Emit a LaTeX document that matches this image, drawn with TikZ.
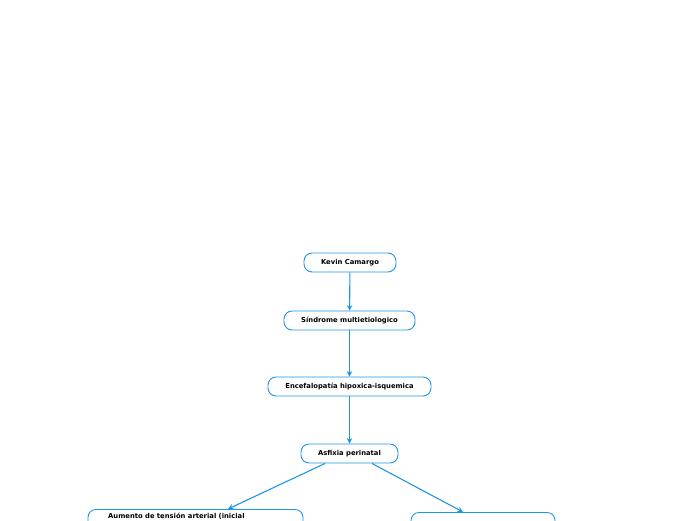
\documentclass[tikz,border=0pt]{standalone}
\usepackage{fontspec}
\setmainfont{DejaVu Sans}
\usepackage{tikz}
\usetikzlibrary{arrows.meta, positioning, calc}
\definecolor{mapblue}{RGB}{30,150,230}

\tikzset{
    topic/.style={draw=mapblue, line width=0.9pt, fill=white, rounded corners=8pt,
        minimum height=19pt, inner sep=0pt, font=\fontsize{6.8}{8}\selectfont\bfseries},
    link/.style={draw=mapblue, line width=1.1pt, -{Stealth[length=5.5pt,width=5.5pt]}}
}

\begin{document}
\begin{tikzpicture}[x=1pt, y=-1pt]
    \clip (0,0) rectangle (696,520);
    \useasboundingbox (0,0) rectangle (696,520);

    % Main chain
    \node[topic, minimum width=92pt] (kevin) at (350,262.5) {Kevin Camargo};
    \node[topic, minimum width=131pt] (sindrome) at (349.5,320.5) {Síndrome multietiologico};
    \node[topic, minimum width=163pt] (encef) at (349.5,386.5) {Encefalopatía hipoxica-isquemica};
    \node[topic, minimum width=97pt] (asfixia) at (349.5,453.5) {Asfixia perinatal};

    % Bottom branches
    \node[topic, minimum width=215pt, minimum height=40pt, anchor=north] (tension) at (195.5,509) {};
    \node[font=\fontsize{6.8}{8}\selectfont\bfseries, anchor=north west, inner sep=0pt] (tensiontxt) at (108,513.2) {Aumento de tensión arterial (inicial};
    \node[topic, minimum width=144pt, minimum height=40pt, anchor=north] (derecha) at (483,512) {};

    % Connectors
    \draw[link] (kevin) -- (sindrome);
    \draw[link] (sindrome) -- (encef);
    \draw[link] (encef) -- (asfixia);
    \draw[link] ($(asfixia.south)+(-24.5,0)$) -- ($(tension.north)+(32.5,0)$);
    \draw[link] ($(asfixia.south)+(22.5,0)$) -- ($(derecha.north)+(-20,0)$);
\end{tikzpicture}
\end{document}
